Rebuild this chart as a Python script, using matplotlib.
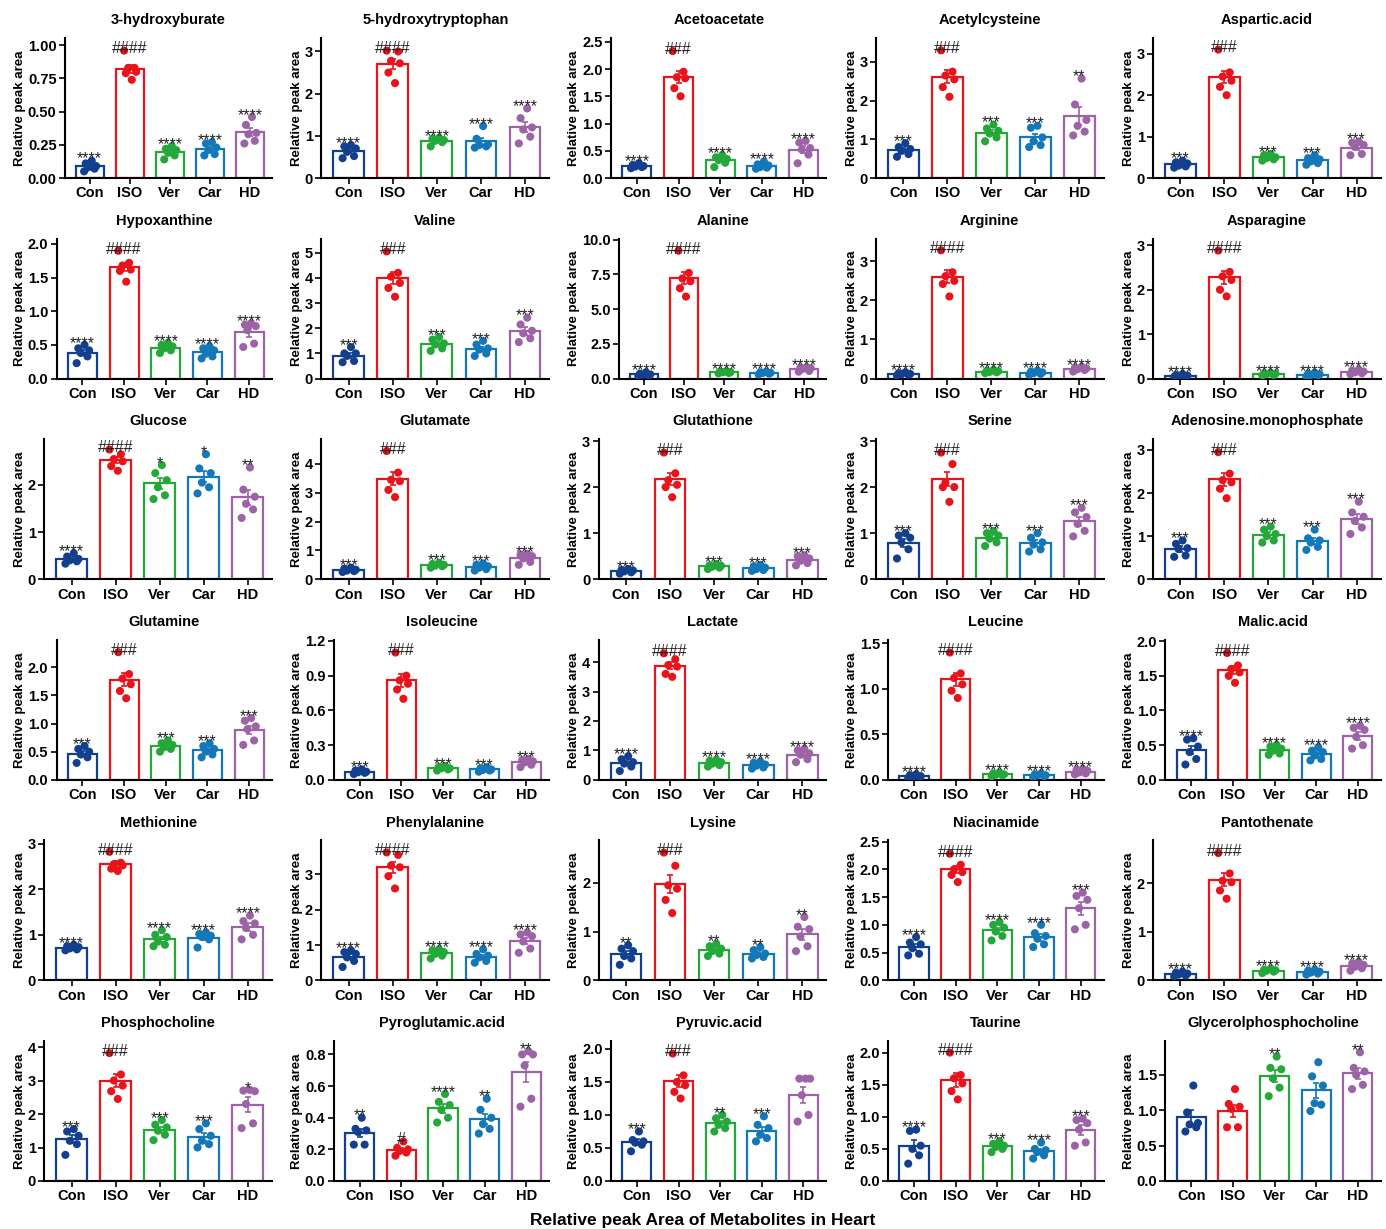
import numpy as np
import matplotlib.pyplot as plt

plt.rcParams['font.family'] = ['Liberation Sans', 'DejaVu Sans']

groups = ['Con', 'ISO', 'Ver', 'Car', 'HD']
colors = ['#12408f', '#e8131b', '#25a83a', '#1377b8', '#9c64a6']

names = ['3-hydroxyburate', '5-hydroxytryptophan', 'Acetoacetate', 'Acetylcysteine', 'Aspartic.acid',
         'Hypoxanthine', 'Valine', 'Alanine', 'Arginine', 'Asparagine',
         'Glucose', 'Glutamate', 'Glutathione', 'Serine', 'Adenosine.monophosphate',
         'Glutamine', 'Isoleucine', 'Lactate', 'Leucine', 'Malic.acid',
         'Methionine', 'Phenylalanine', 'Lysine', 'Niacinamide', 'Pantothenate',
         'Phosphocholine', 'Pyroglutamic.acid', 'Pyruvic.acid', 'Taurine', 'Glycerolphosphocholine']

y_tops = [1.055, 3.32, 2.57, 3.62, 3.38,
          2.08, 5.56, 10.07, 3.58, 3.15,
          2.97, 4.86, 3.04, 3.04, 3.25,
          2.49, 1.21, 4.76, 1.54, 2.02,
          3.07, 3.96, 2.87, 2.52, 2.88,
          4.18, 0.885, 2.12, 2.18, 1.98]
y_steps = [0.25, 1, 0.5, 1, 1,
           0.5, 1, 2.5, 1, 1,
           1, 1, 1, 1, 1,
           0.5, 0.3, 1, 0.5, 0.5,
           1, 1, 1, 0.5, 1,
           1, 0.2, 0.5, 0.5, 0.5]
y_decimals = [2, 0, 1, 0, 0,
              1, 0, 1, 0, 0,
              0, 0, 0, 0, 0,
              1, 1, 0, 1, 1,
              0, 0, 0, 1, 0,
              0, 1, 1, 1, 1]

sig_marks = [['****', '####', '****', '****', '****'],
             ['****', '####', '****', '****', '****'],
             ['****', '###', '****', '****', '****'],
             ['***', '###', '***', '***', '**'],
             ['***', '###', '***', '***', '***'],
             ['****', '####', '****', '****', '****'],
             ['***', '###', '***', '***', '***'],
             ['****', '####', '****', '****', '****'],
             ['****', '####', '****', '****', '****'],
             ['****', '####', '****', '****', '****'],
             ['****', '####', '*', '*', '**'],
             ['***', '###', '***', '***', '***'],
             ['***', '###', '***', '***', '***'],
             ['***', '###', '***', '***', '***'],
             ['***', '###', '***', '***', '***'],
             ['***', '###', '***', '***', '***'],
             ['***', '###', '***', '***', '***'],
             ['****', '####', '****', '****', '****'],
             ['****', '####', '****', '****', '****'],
             ['****', '####', '****', '****', '****'],
             ['****', '####', '****', '****', '****'],
             ['****', '####', '****', '****', '****'],
             ['**', '###', '**', '**', '**'],
             ['****', '####', '****', '****', '***'],
             ['****', '####', '****', '****', '****'],
             ['***', '###', '***', '***', '*'],
             ['**', '#', '****', '**', '**'],
             ['***', '###', '**', '***', ''],
             ['****', '####', '***', '****', '***'],
             ['', '', '**', '', '**']]

# six samples per group: Con, ISO, Ver, Car, HD
hydroxyburate = [[0.05, 0.07, 0.08, 0.09, 0.11, 0.13], [0.96, 0.83, 0.83, 0.80, 0.79, 0.74],
                 [0.14, 0.17, 0.19, 0.21, 0.22, 0.24], [0.17, 0.18, 0.21, 0.23, 0.26, 0.27],
                 [0.26, 0.28, 0.33, 0.34, 0.40, 0.46]]
hydroxytryptophan = [[0.47, 0.52, 0.62, 0.70, 0.75, 0.78], [3.02, 3.0, 2.78, 2.72, 2.5, 2.25],
                     [0.75, 0.85, 0.88, 0.9, 0.93, 0.95], [0.72, 0.75, 0.78, 0.8, 0.93, 1.23],
                     [0.82, 0.98, 1.15, 1.2, 1.42, 1.65]]
acetoacetate = [[0.18, 0.2, 0.21, 0.22, 0.24, 0.27], [2.33, 1.95, 1.85, 1.83, 1.65, 1.5],
                [0.2, 0.28, 0.33, 0.35, 0.38, 0.42], [0.17, 0.19, 0.2, 0.23, 0.25, 0.3],
                [0.27, 0.43, 0.52, 0.55, 0.65, 0.68]]
acetylcysteine = [[0.55, 0.62, 0.7, 0.75, 0.8, 0.9], [3.3, 2.75, 2.65, 2.55, 2.35, 2.1],
                  [0.95, 1.05, 1.15, 1.22, 1.28, 1.38], [0.8, 0.85, 0.95, 1.05, 1.3, 1.35],
                  [1.1, 1.2, 1.35, 1.5, 1.9, 2.57]]
aspartic = [[0.25, 0.28, 0.3, 0.35, 0.38, 0.42], [3.1, 2.55, 2.45, 2.35, 2.2, 2.0],
            [0.42, 0.45, 0.48, 0.5, 0.55, 0.58], [0.32, 0.36, 0.4, 0.45, 0.48, 0.55],
            [0.55, 0.58, 0.75, 0.8, 0.85, 0.88]]
hypoxanthine = [[0.23, 0.33, 0.38, 0.42, 0.45, 0.5], [1.9, 1.72, 1.68, 1.62, 1.6, 1.44],
                [0.38, 0.42, 0.45, 0.48, 0.5, 0.53], [0.3, 0.33, 0.37, 0.42, 0.45, 0.48],
                [0.47, 0.52, 0.72, 0.78, 0.8, 0.82]]
valine = [[0.65, 0.7, 0.9, 1.0, 1.0, 1.25], [5.05, 4.2, 4.05, 3.8, 3.6, 3.25],
          [1.1, 1.2, 1.35, 1.4, 1.55, 1.65], [0.9, 1.0, 1.15, 1.2, 1.35, 1.5],
          [1.45, 1.6, 1.8, 1.9, 2.15, 2.42]]
alanine = [[0.18, 0.22, 0.27, 0.3, 0.35, 0.45], [9.2, 7.6, 7.2, 7.0, 6.5, 5.9],
           [0.38, 0.4, 0.45, 0.47, 0.5, 0.52], [0.3, 0.35, 0.4, 0.42, 0.45, 0.5],
           [0.5, 0.55, 0.7, 0.75, 0.78, 0.8]]
arginine = [[0.08, 0.1, 0.11, 0.12, 0.14, 0.16], [3.28, 2.72, 2.62, 2.5, 2.42, 2.1],
            [0.14, 0.16, 0.17, 0.19, 0.2, 0.22], [0.1, 0.12, 0.14, 0.16, 0.18, 0.2],
            [0.18, 0.22, 0.24, 0.26, 0.28, 0.3]]
asparagine = [[0.04, 0.05, 0.06, 0.07, 0.08, 0.1], [2.88, 2.4, 2.3, 2.22, 2.0, 1.85],
              [0.07, 0.08, 0.1, 0.11, 0.12, 0.13], [0.05, 0.07, 0.08, 0.1, 0.11, 0.13],
              [0.1, 0.12, 0.14, 0.16, 0.18, 0.2]]
glucose = [[0.33, 0.38, 0.4, 0.43, 0.48, 0.55], [2.75, 2.65, 2.55, 2.5, 2.4, 2.3],
           [1.7, 1.78, 1.95, 2.1, 2.25, 2.42], [1.82, 1.95, 2.05, 2.25, 2.35, 2.65],
           [1.3, 1.48, 1.6, 1.75, 1.9, 2.37]]
glutamate = [[0.25, 0.28, 0.3, 0.33, 0.37, 0.4], [4.45, 3.7, 3.45, 3.4, 3.1, 2.85],
             [0.4, 0.45, 0.47, 0.5, 0.53, 0.57], [0.3, 0.35, 0.4, 0.45, 0.5, 0.55],
             [0.5, 0.6, 0.72, 0.8, 0.85, 0.88]]
glutathione = [[0.12, 0.15, 0.17, 0.19, 0.2, 0.22], [2.75, 2.3, 2.15, 2.05, 2.0, 1.78],
               [0.22, 0.25, 0.27, 0.29, 0.3, 0.33], [0.18, 0.2, 0.22, 0.25, 0.28, 0.31],
               [0.3, 0.35, 0.4, 0.45, 0.5, 0.52]]
serine = [[0.45, 0.65, 0.8, 0.9, 0.95, 1.0], [2.75, 2.5, 2.1, 2.0, 2.0, 1.68],
          [0.72, 0.8, 0.88, 0.95, 1.0, 1.05], [0.6, 0.65, 0.75, 0.8, 0.9, 1.0],
          [0.93, 1.05, 1.2, 1.35, 1.45, 1.55]]
amp = [[0.52, 0.55, 0.7, 0.72, 0.82, 0.9], [2.95, 2.45, 2.3, 2.25, 2.1, 1.88],
       [0.85, 0.9, 1.0, 1.05, 1.15, 1.22], [0.68, 0.75, 0.85, 0.9, 0.95, 1.15],
       [1.05, 1.2, 1.35, 1.45, 1.55, 1.8]]
glutamine = [[0.3, 0.4, 0.45, 0.5, 0.55, 0.6], [2.27, 1.88, 1.8, 1.7, 1.58, 1.45],
             [0.5, 0.55, 0.58, 0.62, 0.65, 0.7], [0.4, 0.45, 0.5, 0.55, 0.6, 0.65],
             [0.62, 0.7, 0.9, 0.95, 1.05, 1.1]]
isoleucine = [[0.05, 0.06, 0.065, 0.07, 0.08, 0.09], [1.1, 0.9, 0.86, 0.83, 0.78, 0.7],
              [0.08, 0.09, 0.1, 0.1, 0.11, 0.12], [0.07, 0.08, 0.085, 0.09, 0.1, 0.11],
              [0.11, 0.13, 0.15, 0.16, 0.17, 0.18]]
lactate = [[0.3, 0.45, 0.55, 0.6, 0.7, 0.8], [4.3, 4.1, 3.9, 3.85, 3.6, 3.5],
           [0.45, 0.5, 0.55, 0.6, 0.65, 0.68], [0.38, 0.42, 0.48, 0.52, 0.58, 0.62],
           [0.6, 0.7, 0.85, 0.9, 1.0, 1.05]]
leucine = [[0.02, 0.03, 0.035, 0.04, 0.05, 0.06], [1.4, 1.17, 1.12, 1.05, 0.98, 0.9],
           [0.04, 0.05, 0.055, 0.06, 0.07, 0.08], [0.03, 0.04, 0.05, 0.05, 0.06, 0.07],
           [0.06, 0.07, 0.08, 0.1, 0.11, 0.12]]
malic = [[0.22, 0.3, 0.4, 0.48, 0.58, 0.6], [1.83, 1.65, 1.6, 1.55, 1.5, 1.4],
         [0.36, 0.38, 0.42, 0.45, 0.48, 0.5], [0.28, 0.3, 0.35, 0.4, 0.42, 0.47],
         [0.45, 0.5, 0.62, 0.72, 0.75, 0.78]]
methionine = [[0.66, 0.68, 0.7, 0.73, 0.75, 0.78], [2.82, 2.58, 2.55, 2.52, 2.45, 2.4],
              [0.75, 0.78, 0.85, 0.95, 1.0, 1.1], [0.72, 0.9, 0.95, 0.98, 1.02, 1.05],
              [0.9, 1.0, 1.15, 1.25, 1.3, 1.42]]
phenylalanine = [[0.38, 0.55, 0.65, 0.75, 0.8, 0.85], [3.62, 3.55, 3.25, 3.2, 2.95, 2.6],
                 [0.62, 0.7, 0.75, 0.8, 0.85, 0.88], [0.5, 0.55, 0.65, 0.7, 0.75, 0.88],
                 [0.78, 0.9, 1.1, 1.25, 1.3, 1.35]]
lysine = [[0.32, 0.45, 0.5, 0.6, 0.65, 0.72], [2.62, 2.35, 1.95, 1.88, 1.65, 1.38],
          [0.5, 0.55, 0.6, 0.65, 0.7, 0.75], [0.45, 0.48, 0.52, 0.55, 0.62, 0.68],
          [0.6, 0.7, 0.9, 1.05, 1.1, 1.3]]
niacinamide = [[0.45, 0.48, 0.58, 0.65, 0.68, 0.78], [2.28, 2.08, 2.0, 1.95, 1.9, 1.77],
               [0.72, 0.8, 0.88, 0.95, 1.0, 1.05], [0.6, 0.65, 0.75, 0.8, 0.85, 1.0],
               [0.92, 1.0, 1.3, 1.45, 1.52, 1.58]]
pantothenate = [[0.08, 0.1, 0.12, 0.14, 0.16, 0.18], [2.62, 2.2, 2.05, 2.02, 1.85, 1.68],
                [0.15, 0.18, 0.2, 0.21, 0.22, 0.24], [0.12, 0.14, 0.16, 0.18, 0.2, 0.22],
                [0.2, 0.25, 0.28, 0.32, 0.35, 0.38]]
phosphocholine = [[0.78, 1.1, 1.2, 1.35, 1.48, 1.55], [3.82, 3.18, 3.0, 2.85, 2.68, 2.45],
                  [1.22, 1.38, 1.5, 1.6, 1.68, 1.82], [1.0, 1.1, 1.2, 1.35, 1.55, 1.72],
                  [1.58, 1.72, 2.3, 2.68, 2.7, 2.72]]
pyroglutamic = [[0.23, 0.23, 0.31, 0.32, 0.33, 0.4], [0.16, 0.18, 0.19, 0.2, 0.21, 0.25],
                [0.37, 0.4, 0.45, 0.48, 0.5, 0.55], [0.3, 0.33, 0.36, 0.4, 0.45, 0.52],
                [0.47, 0.52, 0.73, 0.8, 0.8, 0.82]]
pyruvic = [[0.45, 0.55, 0.58, 0.6, 0.62, 0.75], [1.93, 1.6, 1.5, 1.45, 1.35, 1.25],
           [0.75, 0.8, 0.85, 0.9, 0.95, 1.0], [0.6, 0.65, 0.7, 0.8, 0.85, 0.98],
           [0.9, 1.0, 1.3, 1.55, 1.55, 1.55]]
taurine = [[0.27, 0.4, 0.5, 0.55, 0.78, 0.8], [2.0, 1.65, 1.6, 1.52, 1.4, 1.27],
           [0.45, 0.5, 0.53, 0.55, 0.58, 0.62], [0.35, 0.4, 0.45, 0.48, 0.5, 0.6],
           [0.55, 0.6, 0.8, 0.9, 0.95, 0.97]]
glycerolphosphocholine = [[0.7, 0.76, 0.8, 0.82, 0.97, 1.35], [0.76, 0.76, 1.02, 1.05, 1.09, 1.3],
                          [1.2, 1.32, 1.45, 1.58, 1.6, 1.76], [0.99, 1.08, 1.1, 1.35, 1.48, 1.68],
                          [1.3, 1.36, 1.5, 1.55, 1.6, 1.82]]

all_points = [hydroxyburate, hydroxytryptophan, acetoacetate, acetylcysteine, aspartic,
              hypoxanthine, valine, alanine, arginine, asparagine,
              glucose, glutamate, glutathione, serine, amp,
              glutamine, isoleucine, lactate, leucine, malic,
              methionine, phenylalanine, lysine, niacinamide, pantothenate,
              phosphocholine, pyroglutamic, pyruvic, taurine, glycerolphosphocholine]

W, H = 1386, 1229
fig = plt.figure(figsize=(W / 100, H / 100), dpi=100)

jitter = [-0.14, 0.12, -0.04, 0.16, -0.1, 0.05]
col_w = W / 5
row_h = 200.6
ax_h = 140

axes = []
for i, name in enumerate(names):
    r, c = divmod(i, 5)
    cell_left = c * col_w
    bottom_px = 178 + r * row_h
    ax = fig.add_axes([(cell_left + 60) / W, 1 - bottom_px / H, 200 / W, ax_h / H])
    pts = all_points[i]
    for g in range(5):
        vals = np.array(pts[g])
        m = vals.mean()
        sem = vals.std(ddof=1) / np.sqrt(len(vals))
        ax.bar(g, m, width=0.7, facecolor='white', edgecolor=colors[g], linewidth=1.6, zorder=1)
        ax.scatter(g + np.array(jitter), vals, s=34, color=colors[g], edgecolors='none', zorder=3)
        ax.errorbar(g, m, yerr=sem, fmt='none', ecolor=colors[g], elinewidth=1.2,
                    capsize=2.5, capthick=1.2, zorder=4)
        if sig_marks[i][g]:
            ax.text(g, vals.max() + 0.012 * y_tops[i], sig_marks[i][g], ha='center', va='center',
                    fontsize=11.5, color='#222222', zorder=5)
    ax.set_xlim(-0.62, 4.55)
    ax.set_ylim(0, y_tops[i])
    ticks = np.arange(0, y_tops[i] + 1e-9, y_steps[i])
    ax.set_yticks(ticks)
    ax.set_yticklabels([f'{t:.{y_decimals[i]}f}' for t in ticks])
    ax.set_xticks(range(5))
    ax.set_xticklabels(groups)
    for s in ['top', 'right']:
        ax.spines[s].set_visible(False)
    for s in ['left', 'bottom']:
        ax.spines[s].set_linewidth(1.5)
    ax.tick_params(length=4, width=1.2, labelsize=10.5, pad=2)
    for lab in ax.get_xticklabels() + ax.get_yticklabels():
        lab.set_fontweight('bold')
    ax.set_title(name, fontsize=10.5, fontweight='bold', pad=10)
    fig.text((cell_left + 20) / W, 1 - (bottom_px - ax_h / 2) / H, 'Relative peak area',
             rotation=90, ha='center', va='center', fontsize=9.5, fontweight='bold')
    axes.append((ax, cell_left, bottom_px))

# shift each panel so its left edge sits just right of its tick labels
fig.canvas.draw()
renderer = fig.canvas.get_renderer()
for ax, cell_left, bottom_px in axes:
    w = max(lab.get_window_extent(renderer).width for lab in ax.get_yticklabels())
    left_px = cell_left + 29 + w + 7
    right_px = cell_left + 272
    ax.set_position([left_px / W, 1 - bottom_px / H, (right_px - left_px) / W, ax_h / H])

fig.text(703 / W, 1 - 1220 / H, 'Relative peak Area of Metabolites in Heart',
         ha='center', va='center', fontsize=12.5, fontweight='bold')

fig.savefig('out.png', dpi=100)
